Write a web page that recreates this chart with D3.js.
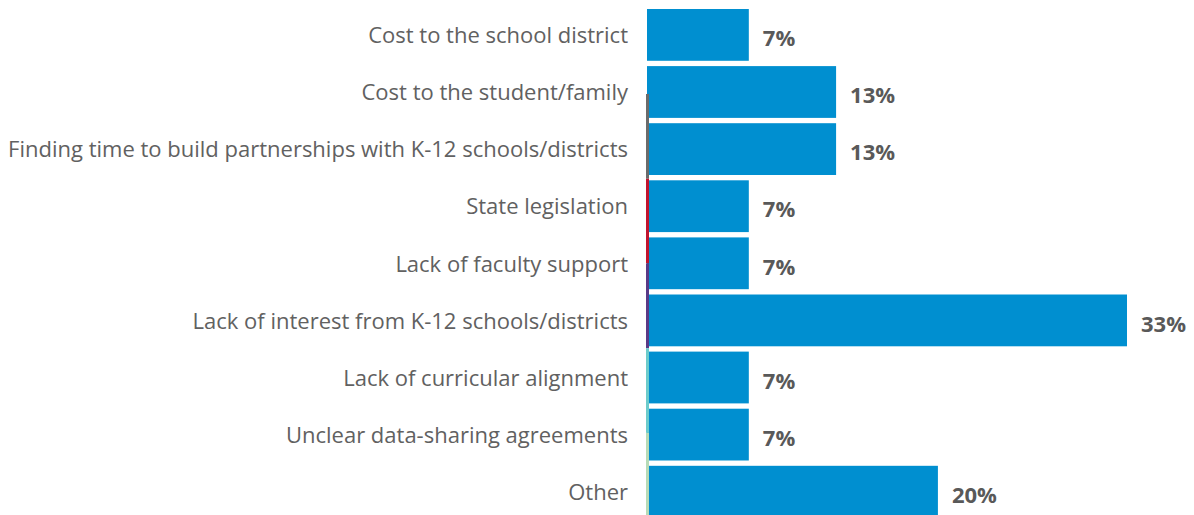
<!DOCTYPE html>
<html>
<head>
<meta charset="utf-8">
<script src="https://cdn.jsdelivr.net/npm/d3@7"></script>
<style>
  html, body { margin: 0; padding: 0; background: #ffffff; }
  svg { display: block; }
</style>
</head>
<body>
<svg id="chart" width="1194" height="515"></svg>
<script>
const categories = [
  "Cost to the school district",
  "Cost to the student/family",
  "Finding time to build partnerships with K-12 schools/districts",
  "State legislation",
  "Lack of faculty support",
  "Lack of interest from K-12 schools/districts",
  "Lack of curricular alignment",
  "Unclear data-sharing agreements",
  "Other"
];
const values = [7, 13, 13, 7, 7, 33, 7, 7, 20];
const valueLabels = ["7%", "13%", "13%", "7%", "7%", "33%", "7%", "7%", "20%"];
// coloured axis-line segments visible along the left edge of the bars
const axisSegmentColors = ["#6b6b6b", "#c0152f", "#5a3a86", "#6ccbcb", "#b7dbb7"];

const svg = d3.select("#chart");

const x = d3.scaleLinear().domain([0, 33]).range([647, 1127]);
const y = d3.scaleBand().domain(categories).range([9, 517.6]).paddingInner(0.093).paddingOuter(0);

const segScale = d3.scaleLinear()
  .domain([0, axisSegmentColors.length])
  .range([y(categories[1]) + y.bandwidth() / 2 + 2, y(categories[categories.length - 1]) + y.bandwidth()]);

svg.append("g")
  .selectAll("rect")
  .data(categories)
  .join("rect")
  .attr("x", x(0))
  .attr("y", d => y(d))
  .attr("height", y.bandwidth())
  .attr("width", (d, i) => x(values[i]) - x(0))
  .attr("fill", "#008fd0");

svg.append("g")
  .selectAll("rect")
  .data(axisSegmentColors)
  .join("rect")
  .attr("x", x(0) - 1)
  .attr("width", 3)
  .attr("y", (d, i) => segScale(i))
  .attr("height", (d, i) => segScale(i + 1) - segScale(i))
  .attr("fill", d => d);

const fontFamily = "'Open Sans', Lato, sans-serif";

svg.append("g")
  .selectAll("text")
  .data(categories)
  .join("text")
  .attr("x", 628)
  .attr("y", d => y(d) + y.bandwidth() / 2 + 0.5)
  .attr("dy", "0.35em")
  .attr("text-anchor", "end")
  .attr("font-family", fontFamily)
  .attr("font-size", 22)
  .attr("fill", "#616161")
  .text(d => d);

svg.append("g")
  .selectAll("text")
  .data(categories)
  .join("text")
  .attr("x", (d, i) => x(values[i]) + 14)
  .attr("y", d => y(d) + y.bandwidth() / 2 + 3.5)
  .attr("dy", "0.35em")
  .attr("text-anchor", "start")
  .attr("font-family", fontFamily)
  .attr("font-weight", "bold")
  .attr("font-size", 22)
  .attr("fill", "#595959")
  .text((d, i) => valueLabels[i]);
</script>
</body>
</html>
